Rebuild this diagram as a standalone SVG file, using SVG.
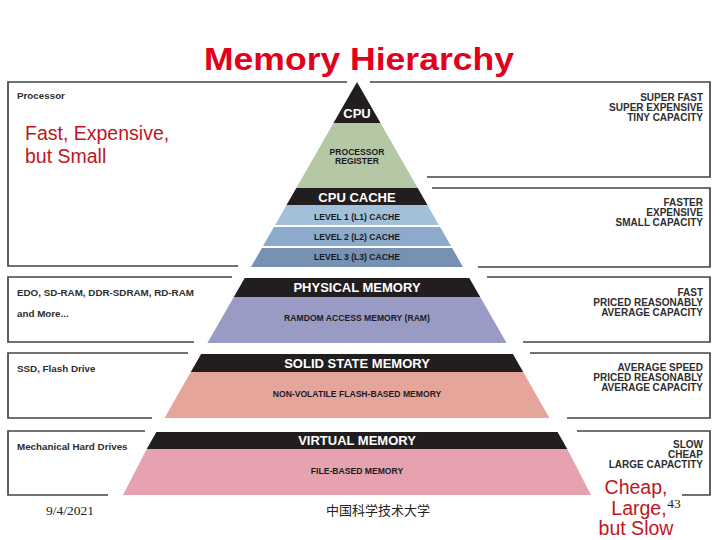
<svg xmlns="http://www.w3.org/2000/svg" width="720" height="540" viewBox="0 0 720 540">
<style>
.panel{fill:none;stroke:#444;stroke-width:1.7}
.lbl{font-family:"Liberation Sans",Arial,sans-serif;font-weight:bold;font-size:9.8px;fill:#2e2e2e}
.rlbl{font-family:"Liberation Sans",Arial,sans-serif;font-weight:bold;font-size:10px;fill:#2e2e2e;text-anchor:end}
.band{font-family:"Liberation Sans",Arial,sans-serif;font-weight:bold;font-size:13px;fill:#fff;text-anchor:middle}
.sub{font-family:"Liberation Sans",Arial,sans-serif;font-weight:bold;font-size:8.6px;fill:#1a1a24;text-anchor:middle}
.red{font-family:"Liberation Sans",Arial,sans-serif;font-size:19.5px;fill:#BE1622}
.foot{font-family:"Liberation Serif","Times New Roman",serif;font-size:13.5px;fill:#222}
</style>
<rect width="720" height="540" fill="#fff"/>

<g id="panels">
  <path class="panel" d="M347,82 H8 V266 H238"/>
  <path class="panel" d="M370,82 H710 V177 H427"/>
  <path class="panel" d="M432,188 H710 V267 H478"/>
  <path class="panel" d="M232,277 H8 V342 H194"/>
  <path class="panel" d="M487,277 H710 V342 H523"/>
  <path class="panel" d="M188,353 H8 V418 H152"/>
  <path class="panel" d="M530,353 H710 V418 H567"/>
  <path class="panel" d="M145,431 H8 V495 H108"/>
  <path class="panel" d="M577,431 H710 V495 H682"/>
</g>

<text id="title" x="359" y="70" text-anchor="middle" font-family="'Liberation Sans',Arial,sans-serif" font-weight="bold" font-size="31" fill="#E2001A" textLength="310" lengthAdjust="spacingAndGlyphs">Memory Hierarchy</text>

<g id="cpu">
  <polygon points="357,82 333.5,123 380.5,123" fill="#221E1F"/>
  <text class="band" x="357" y="118" font-size="13">CPU</text>
</g>
<g id="register">
  <polygon points="333.5,123 380.5,123 417.7,188 296.3,188" fill="#B4C8A5"/>
  <text class="sub" x="357" y="155">PROCESSOR</text>
  <text class="sub" x="357" y="164">REGISTER</text>
</g>
<g id="cpu-cache">
  <polygon points="296.3,188 417.7,188 427.5,205 286.5,205" fill="#221E1F"/>
  <text class="band" x="357" y="202" font-size="13.5">CPU CACHE</text>
</g>
<g id="l1">
  <polygon points="286.5,205 427.5,205 438.9,225 275.1,225" fill="#A3C0DB"/>
  <text class="sub" x="357" y="220">LEVEL 1 (L1) CACHE</text>
</g>
<g id="l2">
  <polygon points="273.9,227 440.1,227 451,246 263,246" fill="#8CAACB"/>
  <text class="sub" x="357" y="240">LEVEL 2 (L2) CACHE</text>
</g>
<g id="l3">
  <polygon points="261.9,248 452.1,248 463,267 251,267" fill="#7691B2"/>
  <text class="sub" x="357" y="260">LEVEL 3 (L3) CACHE</text>
</g>
<g id="physical">
  <polygon points="244.7,278 469.3,278 480.2,297 233.8,297" fill="#221E1F"/>
  <polygon points="233.8,297 480.2,297 506.6,343 207.4,343" fill="#9A9BC5"/>
  <text class="band" x="357" y="292">PHYSICAL MEMORY</text>
  <text class="sub" x="357" y="321">RAMDOM ACCESS MEMORY (RAM)</text>
</g>
<g id="ssd">
  <polygon points="201.1,354 512.9,354 523.2,372 190.8,372" fill="#221E1F"/>
  <polygon points="190.8,372 523.2,372 549.5,418 164.5,418" fill="#E6A59B"/>
  <text class="band" x="357" y="368">SOLID STATE MEMORY</text>
  <text class="sub" x="357" y="397">NON-VOLATILE FLASH-BASED MEMORY</text>
</g>
<g id="virtual">
  <polygon points="156.4,432 557.6,432 567.3,449 146.7,449" fill="#221E1F"/>
  <polygon points="146.7,449 567.3,449 591,495 123,495" fill="#E7A2AF"/>
  <text class="band" x="357" y="445">VIRTUAL MEMORY</text>
  <text class="sub" x="357" y="474">FILE-BASED MEMORY</text>
</g>

<g id="left-labels">
  <text class="lbl" x="17" y="99">Processor</text>
  <text class="lbl" x="17" y="296">EDO, SD-RAM, DDR-SDRAM, RD-RAM</text>
  <text class="lbl" x="17" y="317">and More...</text>
  <text class="lbl" x="17" y="372">SSD, Flash Drive</text>
  <text class="lbl" x="17" y="450">Mechanical Hard Drives</text>
</g>

<g id="right-labels">
  <text class="rlbl" x="703" y="101">SUPER FAST</text>
  <text class="rlbl" x="703" y="111">SUPER EXPENSIVE</text>
  <text class="rlbl" x="703" y="121">TINY CAPACITY</text>
  <text class="rlbl" x="703" y="206">FASTER</text>
  <text class="rlbl" x="703" y="216">EXPENSIVE</text>
  <text class="rlbl" x="703" y="226">SMALL CAPACITY</text>
  <text class="rlbl" x="703" y="296">FAST</text>
  <text class="rlbl" x="703" y="306">PRICED REASONABLY</text>
  <text class="rlbl" x="703" y="316">AVERAGE CAPACITY</text>
  <text class="rlbl" x="703" y="371">AVERAGE SPEED</text>
  <text class="rlbl" x="703" y="381">PRICED REASONABLY</text>
  <text class="rlbl" x="703" y="391">AVERAGE CAPACITY</text>
  <text class="rlbl" x="703" y="448">SLOW</text>
  <text class="rlbl" x="703" y="458">CHEAP</text>
  <text class="rlbl" x="703" y="468">LARGE CAPACTITY</text>
</g>

<g id="note-fast">
  <text class="red" x="25" y="140">Fast, Expensive,</text>
  <text class="red" x="25" y="163">but Small</text>
</g>

<g id="note-cheap">
  <rect x="595" y="474" width="86" height="66" fill="#fff"/>
  <text class="red" x="636" y="494" text-anchor="middle">Cheap,</text>
  <text class="red" x="639" y="515" text-anchor="middle">Large,</text>
  <text class="red" x="636" y="535" text-anchor="middle">but Slow</text>
</g>

<g id="footer">
  <text class="foot" x="70" y="515" text-anchor="middle">9/4/2021</text>
  <text x="378" y="515" text-anchor="middle" font-family="'Noto Sans CJK SC',sans-serif" font-size="13" fill="#222">中国科学技术大学</text>
  <text class="foot" x="674" y="508" text-anchor="middle" font-size="12">43</text>
</g>
</svg>
